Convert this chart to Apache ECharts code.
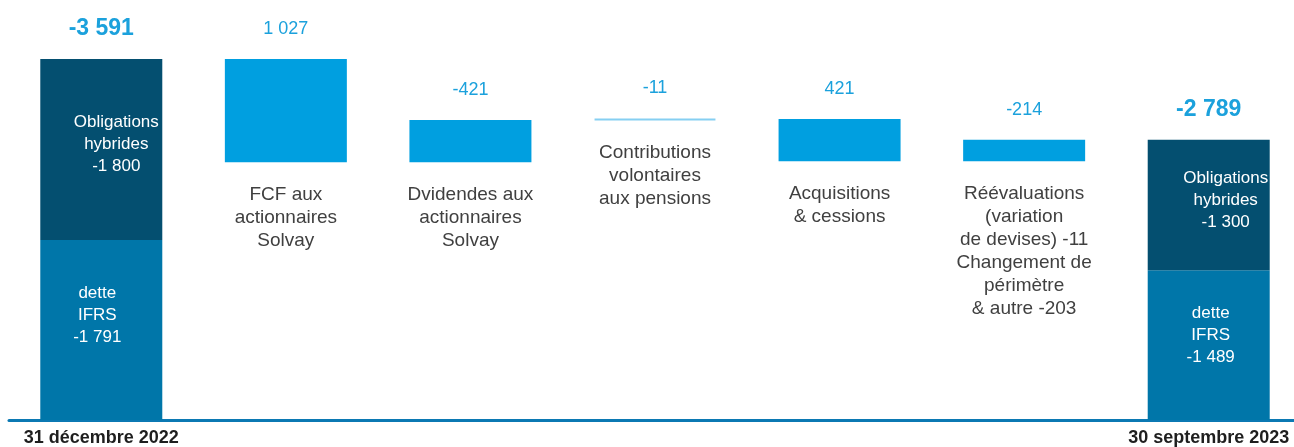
<!DOCTYPE html>
<html>
<head>
<meta charset="utf-8">
<script src="https://cdn.jsdelivr.net/npm/echarts@6/dist/echarts.min.js"></script>
<style>
  html, body { margin: 0; padding: 0; background: #fff; }
  #chart { width: 1294px; height: 447px; }
</style>
</head>
<body>
<div id="chart"></div>
<script>
// données (millions d'euros, dette nette)
const categories = [
  '31 décembre 2022',
  'FCF aux\nactionnaires\nSolvay',
  'Dvidendes aux\nactionnaires\nSolvay',
  'Contributions\nvolontaires\naux pensions',
  'Acquisitions\n& cessions',
  'Réévaluations\n(variation\nde devises) -11\nChangement de\npérimètre\n& autre -203',
  '30 septembre 2023'
];
const ifrsDebt   = [-1791, null, null, null, null, null, -1489];
const hybridDebt = [-1800, null, null, null, null, null, -1300];
const movements  = [null, 1027, -421, -11, 421, -214, null];

function fmt(v) {
  return String(v).replace(/\B(?=(\d{3})+(?!\d))/g, ' ');
}

// cascade : base transparente + variation
const baseData = [], deltaData = [];
let level = 0;
categories.forEach(function (c, i) {
  if (ifrsDebt[i] != null) {
    level = ifrsDebt[i] + hybridDebt[i];
    baseData.push(0);
    deltaData.push({
      value: 0,
      label: { formatter: fmt(level), fontSize: 23, fontWeight: 'bold', distance: 19 }
    });
  } else {
    const before = level, after = level + movements[i];
    baseData.push(Math.min(-before, -after));
    const item = { value: Math.abs(movements[i]) };
    if (Math.abs(movements[i]) < 20) {
      // très petite variation : trait fin
      item.itemStyle = { color: '#86cff2', borderColor: '#86cff2', borderWidth: 2 };
    }
    deltaData.push(item);
    level = after;
  }
});

const ifrsData = ifrsDebt.map(function (v, i) {
  if (v == null) return '-';
  return { value: -v, label: { offset: i === 0 ? [-4, -15] : [2, -10] } };
});
const hybridData = hybridDebt.map(function (v, i) {
  if (v == null) return '-';
  return { value: -v, label: { offset: i === 0 ? [15, -5] : [17, -5] } };
});

const chart = echarts.init(document.getElementById('chart'));
chart.setOption({
  animation: false,
  grid: { left: 9, width: 1292, top: 18, bottom: 27, containLabel: false, outerBoundsMode: 'none' },
  xAxis: {
    type: 'category',
    data: categories,
    axisLine: { lineStyle: { color: '#0b79b3', width: 3 } },
    axisTick: { show: false },
    axisLabel: {
      interval: 0,
      margin: 9,
      color: '#1e1e1e',
      fontFamily: 'Liberation Sans, Arial',
      fontSize: 18,
      fontWeight: 'bold',
      formatter: function (v, i) {
        return (i === 0 || i === categories.length - 1) ? v : '';
      }
    }
  },
  yAxis: { type: 'value', min: 0, max: 4000, show: false },
  series: [
    {
      name: 'base',
      type: 'bar',
      stack: 'w',
      barWidth: 122,
      itemStyle: { color: 'transparent' },
      label: {
        show: true,
        position: 'insideTop',
        distance: 21,
        color: '#404040',
        fontFamily: 'Liberation Sans, Arial',
        fontSize: 19,
        lineHeight: 23,
        formatter: function (p) {
          return p.value > 0 ? categories[p.dataIndex] : '';
        }
      },
      data: baseData
    },
    {
      name: 'dette IFRS',
      type: 'bar',
      stack: 'w',
      itemStyle: { color: '#0076a9' },
      label: {
        show: true,
        position: 'inside',
        color: '#ffffff',
        fontFamily: 'Liberation Sans, Arial',
        fontSize: 17,
        lineHeight: 22,
        formatter: function (p) {
          return 'dette\nIFRS\n' + fmt(ifrsDebt[p.dataIndex]);
        }
      },
      data: ifrsData
    },
    {
      name: 'Obligations hybrides',
      type: 'bar',
      stack: 'w',
      itemStyle: { color: '#044f70' },
      label: {
        show: true,
        position: 'inside',
        color: '#ffffff',
        fontFamily: 'Liberation Sans, Arial',
        fontSize: 17,
        lineHeight: 22,
        formatter: function (p) {
          return 'Obligations\nhybrides\n' + fmt(hybridDebt[p.dataIndex]);
        }
      },
      data: hybridData
    },
    {
      name: 'variation',
      type: 'bar',
      stack: 'w',
      itemStyle: { color: '#009fe0' },
      label: {
        show: true,
        position: 'top',
        distance: 21,
        color: '#1ba1dc',
        fontFamily: 'Liberation Sans, Arial',
        fontSize: 18,
        formatter: function (p) {
          return fmt(movements[p.dataIndex]);
        }
      },
      data: deltaData
    }
  ]
});
</script>
</body>
</html>
